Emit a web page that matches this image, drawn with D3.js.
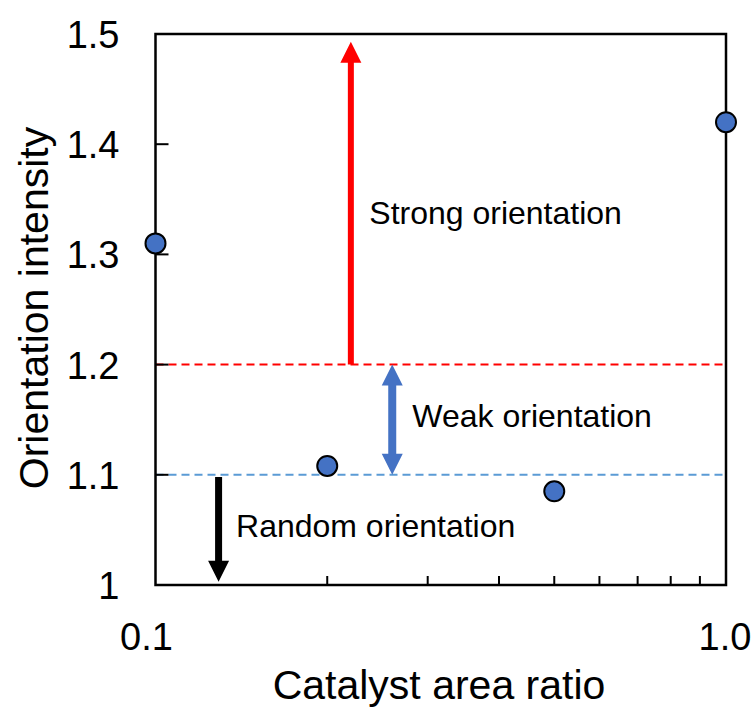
<!DOCTYPE html>
<html>
<head>
<meta charset="utf-8">
<script src="https://cdn.jsdelivr.net/npm/d3@7"></script>
<style>
html,body{margin:0;padding:0;background:#fff;}
text{font-family:"Liberation Sans",Arial,sans-serif;fill:#000;}
</style>
</head>
<body>
<svg id="chart" width="753" height="711"></svg>
<script>
// Data
const ratios = [0.1, 0.2, 0.5, 1.0];
const intensity = [1.31, 1.108, 1.085, 1.42];
const yTicks = [1, 1.1, 1.2, 1.3, 1.4, 1.5];
const yTickLabels = ["1", "1.1", "1.2", "1.3", "1.4", "1.5"];
const xMajorTicks = [0.1, 1.0];
const xMajorLabels = ["0.1", "1.0"];
const xMinorTicks = [0.2, 0.3, 0.4, 0.5, 0.6, 0.7, 0.8, 0.9];
const thresholds = [1.2, 1.1];
const thresholdColors = ["#FF0000", "#5B9BD5"];
const arrowX = [0.22, 0.26, 0.129];
const arrowFrom = [1.2, 1.1, 1.098];
const arrowTo = [1.493, 1.2, 1.003];
const arrowColors = ["#FF0000", "#4472C4", "#000000"];
const arrowBoth = [false, true, false];
const arrowLabels = ["Strong orientation", "Weak orientation", "Random orientation"];
const labelX = [0.237, 0.282, 0.1384];
const labelY = [1.328, 1.1434, 1.0436];

const svg = d3.select("#chart");
const L = 155.5, R = 726, T = 34, B = 585;
const x = d3.scaleLog().domain([0.1, 1.0]).range([L, R]);
const y = d3.scaleLinear().domain([1, 1.5]).range([B, T]);

// threshold dashed lines
svg.selectAll("line.thr").data(thresholds).enter().append("line")
  .attr("x1", L).attr("x2", R)
  .attr("y1", d => y(d)).attr("y2", d => y(d))
  .attr("stroke", (d, i) => thresholdColors[i])
  .attr("stroke-width", 2)
  .attr("stroke-dasharray", "8,5");

// arrows
function arrowPath(xc, y0, y1, shaftW, headW, headL, both) {
  const dir = y1 < y0 ? -1 : 1;
  const hw = shaftW / 2, hh = headW / 2;
  let pts = [];
  const tipY = y1, baseHeadY = y1 - dir * headL;
  if (both) {
    const tip0 = y0, base0 = y0 + dir * headL;
    pts = [[xc, tip0], [xc + hh, base0], [xc + hw, base0], [xc + hw, baseHeadY], [xc + hh, baseHeadY],
           [xc, tipY], [xc - hh, baseHeadY], [xc - hw, baseHeadY], [xc - hw, base0], [xc - hh, base0]];
  } else {
    pts = [[xc - hw, y0], [xc + hw, y0], [xc + hw, baseHeadY], [xc + hh, baseHeadY], [xc, tipY],
           [xc - hh, baseHeadY], [xc - hw, baseHeadY]];
  }
  return "M" + pts.map(p => p.join(",")).join("L") + "Z";
}
const shaftWs = [6, 8, 7];
svg.selectAll("path.arrow").data(arrowX).enter().append("path")
  .attr("d", (d, i) => arrowPath(x(d), y(arrowFrom[i]), y(arrowTo[i]), shaftWs[i], 21, 21, arrowBoth[i]))
  .attr("fill", (d, i) => arrowColors[i]);

svg.selectAll("text.alabel").data(arrowLabels).enter().append("text")
  .attr("x", (d, i) => x(labelX[i])).attr("y", (d, i) => y(labelY[i]))
  .attr("font-size", 32)
  .text(d => d);

// frame
svg.append("rect").attr("x", L).attr("y", T).attr("width", R - L).attr("height", B - T)
  .attr("fill", "none").attr("stroke", "#000").attr("stroke-width", 2.5);

// y ticks (inside)
svg.selectAll("line.yt").data(yTicks).enter().append("line")
  .attr("x1", L).attr("x2", L + 13)
  .attr("y1", d => y(d)).attr("y2", d => y(d))
  .attr("stroke", "#000").attr("stroke-width", 2);
svg.selectAll("text.yl").data(yTicks).enter().append("text")
  .attr("x", L - 36).attr("y", d => y(d)).attr("dy", 14)
  .attr("text-anchor", "end").attr("font-size", 38)
  .text((d, i) => yTickLabels[i]);

// x ticks (inside)
svg.selectAll("line.xt").data(xMinorTicks).enter().append("line")
  .attr("x1", d => x(d)).attr("x2", d => x(d))
  .attr("y1", B).attr("y2", B - 9)
  .attr("stroke", "#000").attr("stroke-width", 2);
svg.selectAll("text.xl").data(xMajorTicks).enter().append("text")
  .attr("x", d => x(d)).attr("dx", (d, i) => i === 0 ? -9 : -1).attr("y", 650)
  .attr("text-anchor", "middle").attr("font-size", 38)
  .text((d, i) => xMajorLabels[i]);

// points
svg.selectAll("circle.pt").data(ratios).enter().append("circle")
  .attr("cx", d => x(d)).attr("cy", (d, i) => y(intensity[i]))
  .attr("r", 10)
  .attr("fill", "#4472C4").attr("stroke", "#000").attr("stroke-width", 2);

// axis titles
svg.append("text").attr("x", 439).attr("y", 699)
  .attr("text-anchor", "middle").attr("font-size", 41)
  .text("Catalyst area ratio");
svg.append("text").attr("transform", "translate(48,308) rotate(-90)")
  .attr("text-anchor", "middle").attr("font-size", 41)
  .text("Orientation intensity");
</script>
</body>
</html>
